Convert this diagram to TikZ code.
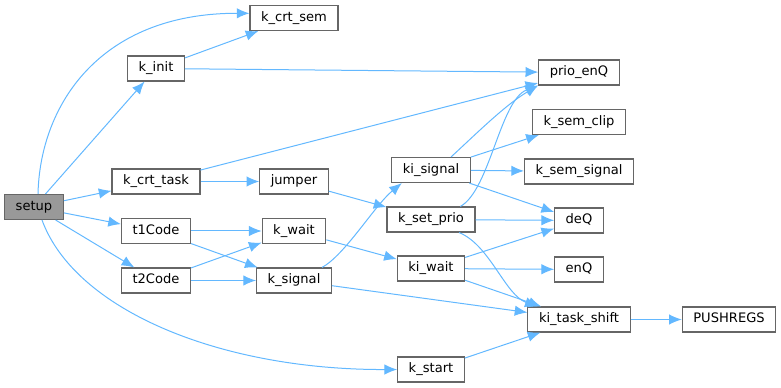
\documentclass[tikz,border=0pt]{standalone}
\usepackage{fontspec}
\setmainfont{DejaVu Sans}
\usepackage{xcolor}
\usepackage{tikz}
\usetikzlibrary{arrows.meta}
\definecolor{edgeblue}{RGB}{99,184,255}
\definecolor{boxgray}{RGB}{102,102,102}
\definecolor{rootgray}{RGB}{153,153,153}

\begin{document}
\begin{tikzpicture}[x=0.75pt,y=-0.75pt,
  fn/.style={draw=boxgray,fill=white,line width=0.8pt,inner xsep=8.3pt,
    inner ysep=0pt,minimum height=18.75pt,text height=7.3pt,text depth=2.2pt,
    font=\fontsize{9.8}{11}\selectfont},
  root/.style={fn,fill=rootgray},
  call/.style={draw=edgeblue,line width=0.75pt,-{Latex[length=9.5pt,width=7.8pt]}}]
  \useasboundingbox (0,0) rectangle (781,388);
  % functions
  \node[root] (setup) at (34,207) {setup};
  \node[fn] (kcrtsem) at (294,18) {k\_crt\_sem};
  \node[fn] (kinit) at (156,68.5) {k\_init};
  \node[fn] (kcrttask) at (156,181.5) {k\_crt\_task};
  \node[fn] (jumper) at (294,181.5) {jumper};
  \node[fn] (t1code) at (156,231) {t1Code};
  \node[fn] (kwait) at (294,231) {k\_wait};
  \node[fn] (t2code) at (156,280.5) {t2Code};
  \node[fn] (ksignal) at (294,280.5) {k\_signal};
  \node[fn] (kisignal) at (431,170) {ki\_signal};
  \node[fn] (ksetprio) at (431,219.5) {k\_set\_prio};
  \node[fn] (kiwait) at (431,268.5) {ki\_wait};
  \node[fn] (kstart) at (431,369.5) {k\_start};
  \node[fn] (prioenq) at (579,72.5) {prio\_enQ};
  \node[fn] (ksemclip) at (579,122) {k\_sem\_clip};
  \node[fn] (ksemsignal) at (579,171.5) {k\_sem\_signal};
  \node[fn] (deq) at (579,220.5) {deQ};
  \node[fn] (enq) at (579,269.5) {enQ};
  \node[fn] (kitaskshift) at (579,319.5) {ki\_task\_shift};
  \node[fn] (pushregs) at (729,319.5) {PUSHREGS};

  % calls from setup
  \draw[call] ([xshift=3pt]setup.north) .. controls (40,105) and (100,13) .. (kcrtsem.174);
  \draw[call] (setup) -- (kinit);
  \draw[call] (setup) -- (kcrttask);
  \draw[call] (setup) -- (t1code);
  \draw[call] (setup) -- (t2code);
  \draw[call] ([xshift=6pt]setup.south) .. controls (75,310) and (220,370) .. (kstart.west);

  % second level
  \draw[call] (kinit) -- (kcrtsem);
  \draw[call] (kinit) -- (prioenq);
  \draw[call] (kcrttask) -- (prioenq);
  \draw[call] (kcrttask) -- (jumper);
  \draw[call] (jumper) -- (ksetprio);
  \draw[call] (t1code) -- (kwait);
  \draw[call] (t1code) -- (ksignal);
  \draw[call] (t2code) -- (kwait);
  \draw[call] (t2code) -- (ksignal);

  % third level
  \draw[call] (kwait) -- (kiwait);
  \draw[call] ([xshift=-7.5pt]ksignal.north east) .. controls (345,255) and (375,205) .. ([xshift=8pt]kisignal.south west);
  \draw[call] (ksignal) -- (kitaskshift);
  \draw[call] ([xshift=15pt]kisignal.north) .. controls (475,135) and (505,105) .. (prioenq.south west);
  \draw[call] (kisignal) -- (ksemclip);
  \draw[call] (kisignal) -- (ksemsignal);
  \draw[call] (kisignal) -- (deq);
  \draw[call] ([xshift=22pt]ksetprio.north) .. controls (490,190) and (500,100) .. (prioenq.south west);
  \draw[call] (ksetprio) -- (deq);
  \draw[call] ([xshift=21pt]ksetprio.south) .. controls (490,245) and (505,295) .. ([xshift=-31pt]kitaskshift.north);
  \draw[call] (kiwait) -- (deq);
  \draw[call] (kiwait) -- (enq);
  \draw[call] (kiwait) -- (kitaskshift);
  \draw[call] (kstart) -- (kitaskshift);
  \draw[call] (kitaskshift) -- (pushregs);
\end{tikzpicture}
\end{document}
